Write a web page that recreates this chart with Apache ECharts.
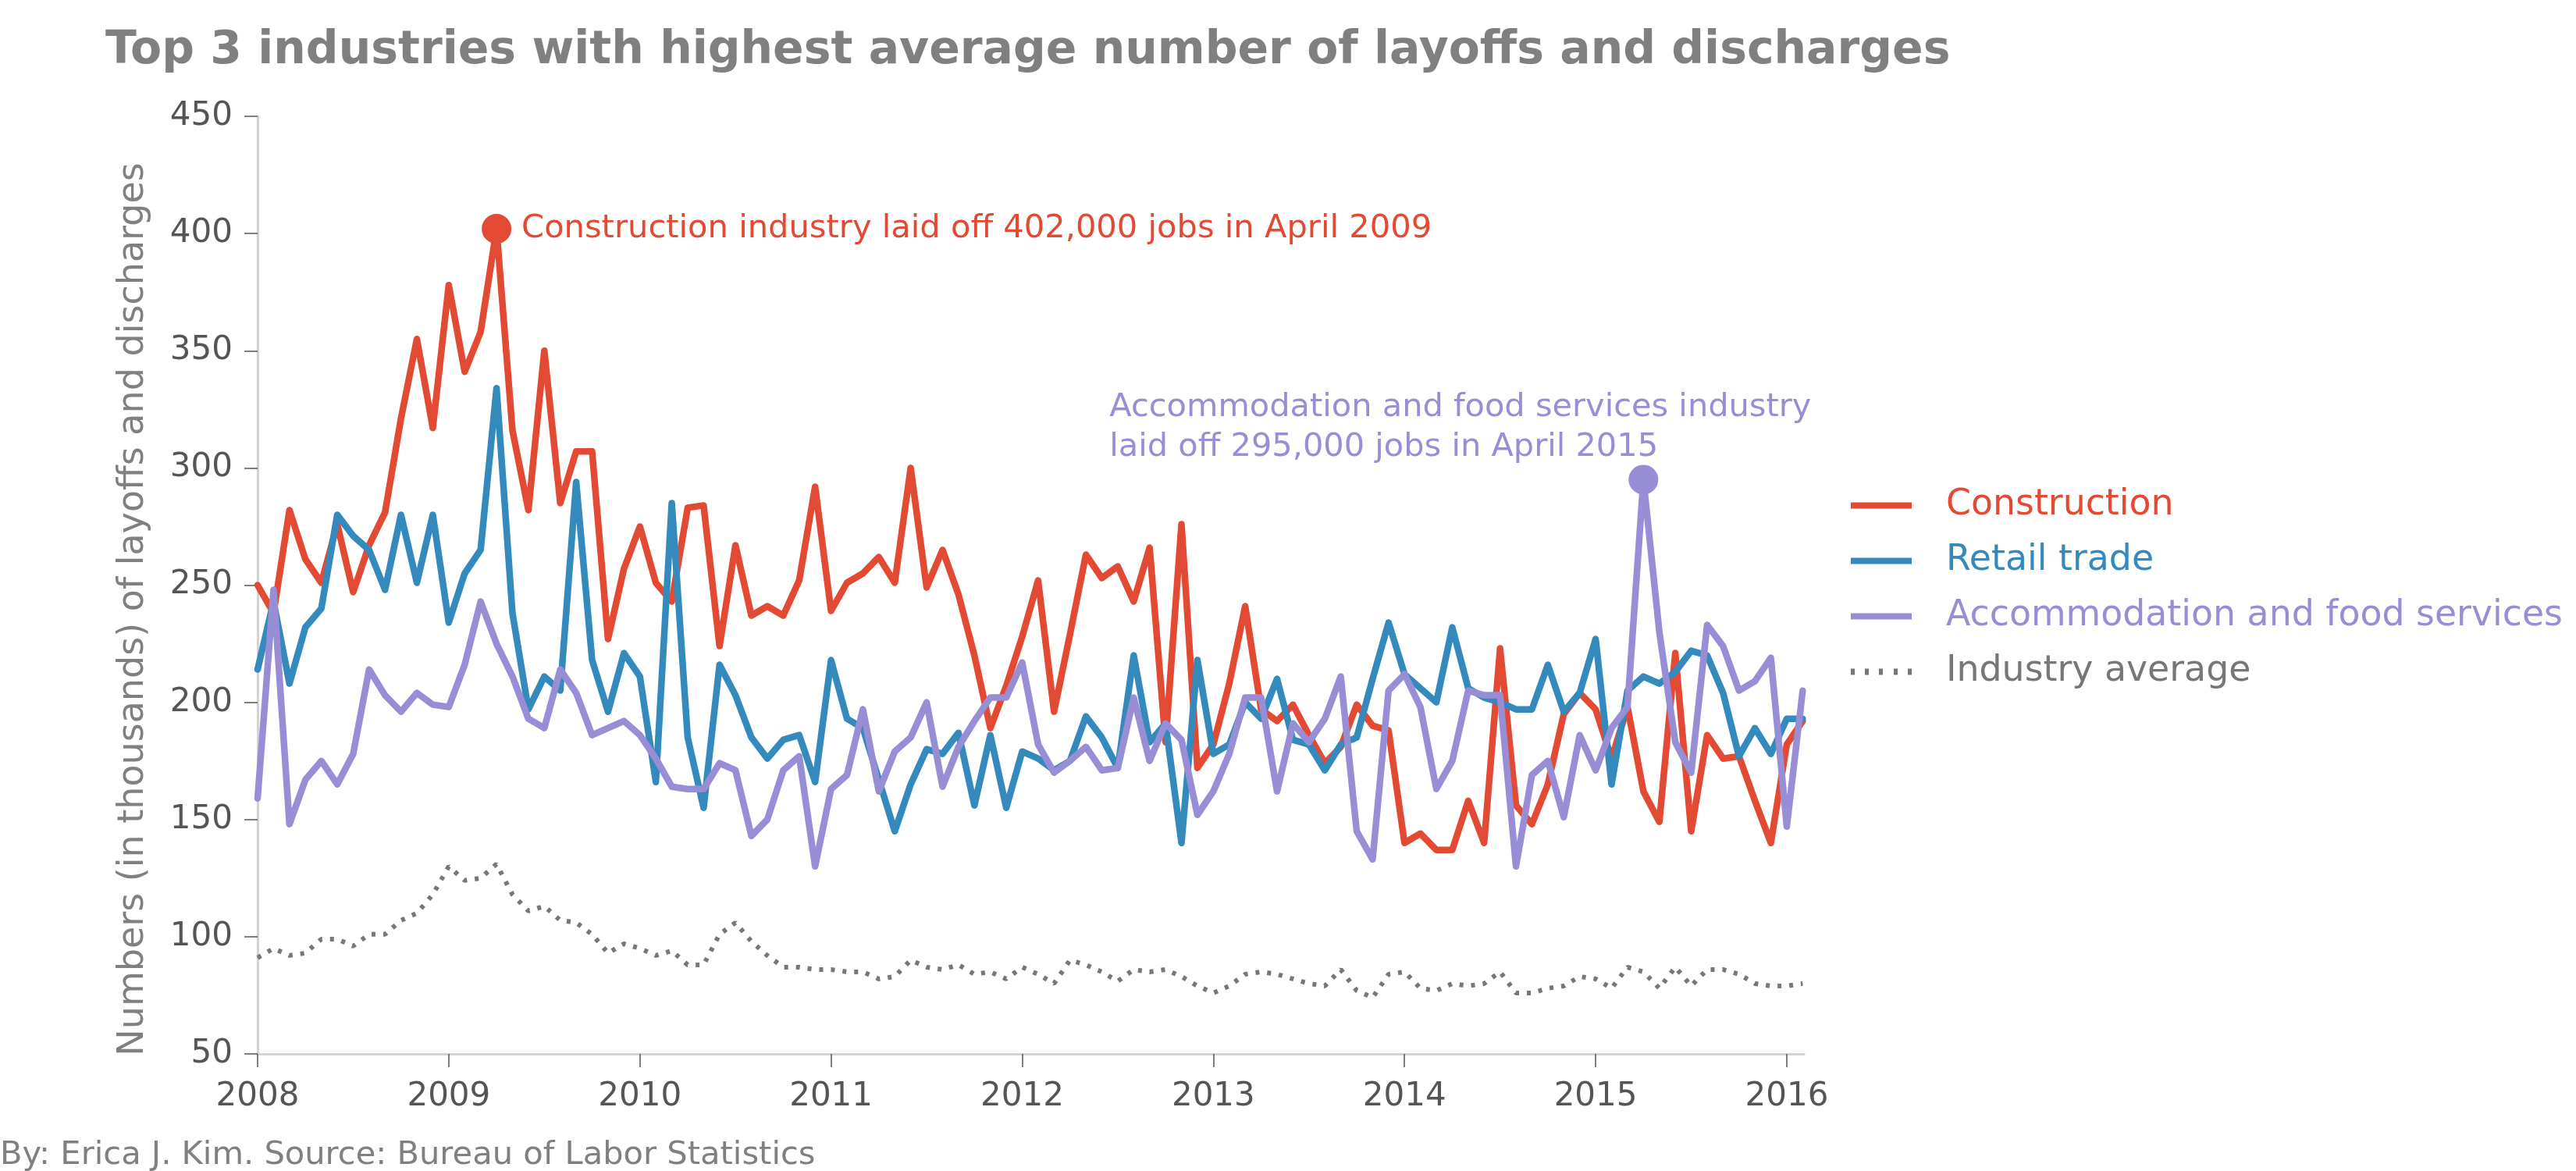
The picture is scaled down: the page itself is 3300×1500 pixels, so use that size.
<!DOCTYPE html>
<html>
<head>
<meta charset="utf-8">
<script src="https://cdn.jsdelivr.net/npm/echarts@6/dist/echarts.min.js"></script>
<style>
html,body{margin:0;padding:0;background:#fff;}
#chart{width:3300px;height:1500px;}
</style>
</head>
<body>
<div id="chart"></div>
<script>
// Monthly data, January 2008 through February 2016 (thousands)
const startYear = 2008;
const yearTicks = [2008, 2009, 2010, 2011, 2012, 2013, 2014, 2015, 2016];
const yTicks = [50, 100, 150, 200, 250, 300, 350, 400, 450];

const construction = [
  250, 238, 282, 261, 251, 276, 247, 267, 281, 321, 355, 317,
  378, 341, 358, 402, 316, 282, 350, 285, 307, 307, 227, 257,
  275, 251, 243, 283, 284, 224, 267, 237, 241, 237, 252, 292,
  239, 251, 255, 262, 251, 300, 249, 265, 246, 220, 189, 207,
  228, 252, 196, 229, 263, 253, 258, 243, 266, 183, 276, 172,
  182, 208, 241, 197, 192, 199, 186, 174, 181, 199, 190, 188,
  140, 144, 137, 137, 158, 140, 223, 156, 148, 165, 195, 204,
  197, 176, 198, 162, 149, 221, 145, 186, 176, 177, 158, 140,
  182, 192
];
const retail = [
  214, 243, 208, 232, 240, 280, 271, 265, 248, 280, 251, 280,
  234, 255, 265, 334, 238, 197, 211, 205, 294, 218, 196, 221,
  211, 166, 285, 185, 155, 216, 203, 185, 176, 184, 186, 166,
  218, 193, 189, 167, 145, 165, 180, 178, 187, 156, 186, 155,
  179, 176, 171, 175, 194, 185, 172, 220, 183, 191, 140, 218,
  178, 182, 200, 193, 210, 184, 182, 171, 182, 185, 210, 234,
  212, 206, 200, 232, 206, 202, 200, 197, 197, 216, 196, 204,
  227, 165, 205, 211, 208, 213, 222, 220, 204, 177, 189, 178,
  193, 193
];
const accommodation = [
  159, 248, 148, 167, 175, 165, 178, 214, 203, 196, 204, 199,
  198, 216, 243, 225, 211, 193, 189, 214, 204, 186, 189, 192,
  186, 176, 164, 163, 163, 174, 171, 143, 150, 171, 177, 130,
  163, 169, 197, 162, 179, 185, 200, 164, 181, 192, 202, 202,
  217, 182, 170, 175, 181, 171, 172, 202, 175, 191, 184, 152,
  162, 178, 202, 202, 162, 191, 183, 193, 211, 145, 133, 205,
  212, 198, 163, 175, 205, 203, 203, 130, 169, 175, 151, 186,
  171, 189, 198, 295, 230, 183, 170, 233, 224, 205, 209, 219,
  147, 205
];
const industryAverage = [
  91, 95, 92, 93, 99, 99, 96, 101, 101, 107, 110, 118,
  130, 124, 125, 131, 118, 111, 113, 107, 106, 101, 93, 97,
  95, 92, 94, 88, 88, 101, 106, 98, 92, 87, 87, 86,
  86, 85, 85, 82, 83, 90, 87, 86, 88, 84, 85, 82,
  87, 84, 80, 90, 88, 85, 81, 86, 85, 86, 83, 79,
  76, 79, 84, 85, 84, 82, 80, 79, 86, 77, 74, 84,
  85, 78, 77, 80, 79, 80, 85, 76, 76, 78, 79, 83,
  82, 78, 87, 85, 78, 87, 79, 86, 86, 84, 80, 79,
  79, 80
];

const seriesNames = ['Construction', 'Retail trade', 'Accommodation and food services', 'Industry average'];
const colors = ['#E24A33', '#348ABD', '#988ED5', '#777777'];

const FONT = 'DejaVu Sans';
const LW = 8.5;
const toPairs = arr => arr.map((v, i) => [startYear + i / 12, v]);
const peakIdx = arr => arr.indexOf(Math.max(...arr));

const cPeak = peakIdx(construction);
const aPeak = peakIdx(accommodation);

const solidIcon = 'rect';
const dottedIcon = 'path://M0,0h5v8h-5z M18,0h5v8h-5z M36,0h5v8h-5z M55,0h5v8h-5z M73,0h5v8h-5z';

const chart = echarts.init(document.getElementById('chart'), null, {renderer: 'canvas'});

const option = {
  animation: false,
  backgroundColor: '#ffffff',
  textStyle: {fontFamily: FONT},
  title: {
    text: 'Top 3 industries with highest average number of layoffs and discharges',
    left: 130,
    top: 32,
    textStyle: {fontFamily: FONT, fontSize: 58.4, fontWeight: 'bold', color: '#808080'}
  },
  grid: {left: 330, right: 989, top: 149, bottom: 150, containLabel: false},
  xAxis: {
    type: 'value',
    min: 2008,
    max: 2016.09,
    interval: 1,
    splitLine: {show: false},
    axisLine: {show: true, lineStyle: {color: '#d3d3d3', width: 3}},
    axisTick: {show: true, length: 17, customValues: yearTicks, lineStyle: {color: '#555555', width: 1.5}},
    axisLabel: {
      customValues: yearTicks,
      margin: 34,
      fontFamily: FONT, fontSize: 42, color: '#555555',
      formatter: v => String(Math.round(v))
    }
  },
  yAxis: {
    type: 'value',
    min: 50,
    max: 450,
    interval: 50,
    name: 'Numbers (in thousands) of layoffs and discharges',
    nameLocation: 'middle',
    nameGap: 136,
    nameRotate: 90,
    nameTextStyle: {fontFamily: FONT, fontSize: 46, color: '#808080', padding: [0, 62, 0, 0]},
    splitLine: {show: false},
    axisLine: {show: true, lineStyle: {color: '#d3d3d3', width: 3}},
    axisTick: {show: true, length: 17, lineStyle: {color: '#555555', width: 1.5}},
    axisLabel: {
      margin: 32,
      fontFamily: FONT, fontSize: 42, color: '#555555',
      formatter: v => (yTicks.indexOf(v) >= 0 ? String(v) : '')
    }
  },
  legend: {
    orient: 'vertical',
    left: 2366,
    top: 617,
    itemWidth: 78,
    itemHeight: 8,
    itemGap: 20,
    textStyle: {fontFamily: FONT, fontSize: 45.8, lineHeight: 51, padding: [0, 0, 0, 39]},
    data: seriesNames.map((n, i) => ({
      name: n,
      icon: i === 3 ? dottedIcon : solidIcon,
      itemStyle: {color: colors[i]},
      textStyle: {color: colors[i]}
    }))
  },
  series: [
    {
      name: seriesNames[0],
      type: 'line',
      data: toPairs(construction),
      symbol: 'none',
      lineStyle: {color: colors[0], width: LW, join: 'round', cap: 'round'},
      itemStyle: {color: colors[0]},
      markPoint: {
        symbol: 'circle',
        symbolSize: 38,
        itemStyle: {color: colors[0]},
        label: {
          show: true,
          position: 'right',
          distance: 13,
          fontFamily: FONT,
          fontSize: 41.6,
          color: colors[0],
          formatter: 'Construction industry laid off 402,000 jobs in April 2009'
        },
        data: [{coord: [startYear + cPeak / 12, construction[cPeak]]}]
      }
    },
    {
      name: seriesNames[1],
      type: 'line',
      data: toPairs(retail),
      symbol: 'none',
      lineStyle: {color: colors[1], width: LW, join: 'round', cap: 'round'},
      itemStyle: {color: colors[1]}
    },
    {
      name: seriesNames[2],
      type: 'line',
      data: toPairs(accommodation),
      symbol: 'none',
      lineStyle: {color: colors[2], width: LW, join: 'round', cap: 'round'},
      itemStyle: {color: colors[2]},
      markPoint: {
        symbol: 'circle',
        symbolSize: 38,
        itemStyle: {color: colors[2]},
        label: {
          show: true,
          position: [-665, -98],
          align: 'left',
          verticalAlign: 'top',
          fontFamily: FONT,
          fontSize: 41.5,
          lineHeight: 50.5,
          color: colors[2],
          formatter: 'Accommodation and food services industry\nlaid off 295,000 jobs in April 2015'
        },
        data: [{coord: [startYear + aPeak / 12, accommodation[aPeak]]}]
      }
    },
    {
      name: seriesNames[3],
      type: 'line',
      data: toPairs(industryAverage),
      symbol: 'none',
      lineStyle: {color: colors[3], width: 6, type: [5, 10], cap: 'butt'},
      itemStyle: {color: colors[3]}
    }
  ],
  graphic: [
    {
      type: 'text',
      left: 0,
      top: 1459,
      style: {
        text: 'By: Erica J. Kim. Source: Bureau of Labor Statistics',
        fontFamily: FONT,
        fontSize: 41.6,
        fill: '#808080'
      }
    }
  ]
};

chart.setOption(option);
</script>
</body>
</html>
